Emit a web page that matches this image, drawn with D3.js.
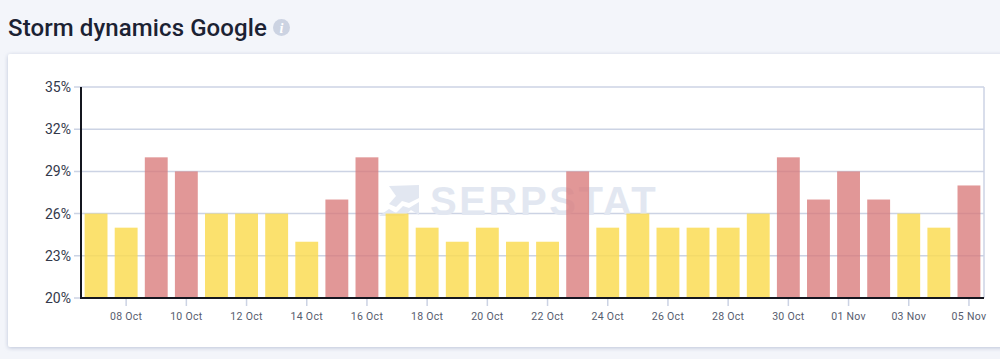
<!DOCTYPE html>
<html>
<head>
<meta charset="utf-8">
<script src="https://cdn.jsdelivr.net/npm/d3@7"></script>
<style>
    html, body { margin: 0; padding: 0; background: #f3f5fa; overflow: hidden; }
    svg { display: block; font-family: Roboto, sans-serif; }
</style>
</head>
<body>
<div id="chart"></div>
<script>
const days = ["07 Oct", "08 Oct", "09 Oct", "10 Oct", "11 Oct", "12 Oct", "13 Oct", "14 Oct", "15 Oct", "16 Oct",
    "17 Oct", "18 Oct", "19 Oct", "20 Oct", "21 Oct", "22 Oct", "23 Oct", "24 Oct", "25 Oct", "26 Oct",
    "27 Oct", "28 Oct", "29 Oct", "30 Oct", "31 Oct", "01 Nov", "02 Nov", "03 Nov", "04 Nov", "05 Nov"];
const storm = [26, 25, 30, 29, 26, 26, 26, 24, 27, 30, 26, 25, 24, 25, 24, 24, 29, 25, 26, 25, 25, 25, 26, 30, 27, 29, 27, 26, 25, 28];
const yTicks = [20, 23, 26, 29, 32, 35];
const xTicks = days.filter((d, i) => i % 2 === 1);
const highLevel = 27; // days at or above this are drawn red

const width = 1000, height = 359;
const margin = { top: 87, right: 16, bottom: 61, left: 81 };

const svg = d3.select("#chart").append("svg")
    .attr("width", width)
    .attr("height", height);

// Card shadow
const shadow = svg.append("defs").append("filter")
    .attr("id", "card-shadow")
    .attr("x", "-5%").attr("y", "-5%")
    .attr("width", "110%").attr("height", "110%");
shadow.append("feDropShadow")
    .attr("dx", 0).attr("dy", 1)
    .attr("stdDeviation", 2)
    .attr("flood-color", "#aeb7d0")
    .attr("flood-opacity", 0.8);

svg.append("rect")
    .attr("x", 8).attr("y", 54)
    .attr("width", 1010).attr("height", 293)
    .attr("rx", 2)
    .attr("fill", "#fff")
    .attr("filter", "url(#card-shadow)");

// Title and info badge
svg.append("text")
    .attr("x", 8).attr("y", 36)
    .attr("font-size", 24)
    .attr("font-weight", 500)
    .attr("letter-spacing", 0.1)
    .attr("fill", "#1b2233")
    .text("Storm dynamics Google");

svg.append("circle")
    .attr("cx", 281.5).attr("cy", 27.5).attr("r", 8.5)
    .attr("fill", "#ccd3e2");
svg.append("text")
    .attr("x", 281.5).attr("y", 32.5)
    .attr("text-anchor", "middle")
    .attr("font-family", "'Liberation Serif', serif")
    .attr("font-style", "italic")
    .attr("font-weight", "bold")
    .attr("font-size", 14)
    .attr("fill", "#fff")
    .text("i");

const xScale = d3.scaleBand()
    .domain(days)
    .range([margin.left, width - margin.right])
    .paddingInner(0.24)
    .paddingOuter(0.12);

const yScale = d3.scaleLinear()
    .domain([20, 35])
    .range([height - margin.bottom, margin.top]);

// Horizontal grid
svg.append("g")
    .selectAll("line")
    .data(yTicks)
    .enter().append("line")
    .attr("x1", margin.left - 7)
    .attr("x2", width - margin.right)
    .attr("y1", d => yScale(d))
    .attr("y2", d => yScale(d))
    .attr("stroke", "#ccd3e4")
    .attr("stroke-width", 1.5);

// Right border of the plot
svg.append("line")
    .attr("x1", width - margin.right).attr("x2", width - margin.right)
    .attr("y1", margin.top).attr("y2", height - margin.bottom)
    .attr("stroke", "#ccd3e4")
    .attr("stroke-width", 1.5);

// Watermark
const mark = svg.append("g").attr("fill", "#e2e7f1");
mark.append("text")
    .attr("x", 430).attr("y", 215)
    .attr("font-family", "'Liberation Sans', Arial, sans-serif")
    .attr("font-weight", "bold")
    .attr("font-size", 40)
    .attr("letter-spacing", 2.6)
    .text("SERPSTAT");
mark.append("path")
    .attr("d", "M389 186 L419 185 L419 198 L409 203 L402 201 L396 207 L389 204 L396 196 Z M379 216 L389 209 L396 213 L403 206 L409 208 L419 202 L419 215 L411 210 L404 216 Z");

// Bars
svg.append("g")
    .selectAll("rect")
    .data(days)
    .enter().append("rect")
    .attr("x", d => xScale(d))
    .attr("y", (d, i) => yScale(storm[i]))
    .attr("width", xScale.bandwidth())
    .attr("height", (d, i) => yScale(20) - yScale(storm[i]))
    .attr("fill", (d, i) => storm[i] >= highLevel ? "#d87a7a" : "#fadb52")
    .attr("fill-opacity", (d, i) => storm[i] >= highLevel ? 0.78 : 0.84);

// X axis
const xAxis = svg.append("g")
    .attr("transform", `translate(0,${height - margin.bottom})`)
    .call(d3.axisBottom(xScale).tickValues(xTicks).tickSize(8).tickPadding(7));
xAxis.select(".domain").remove();
xAxis.selectAll("line").attr("stroke", "#ccd3e4").attr("stroke-width", 1.5);
xAxis.selectAll("text")
    .attr("font-size", 10.5)
    .attr("font-family", "Roboto, sans-serif")
    .attr("letter-spacing", 0.3)
    .attr("fill", "#565c6e");

// Y axis labels
svg.append("g")
    .selectAll("text")
    .data(yTicks)
    .enter().append("text")
    .attr("x", 71)
    .attr("y", d => yScale(d) + 5)
    .attr("text-anchor", "end")
    .attr("font-size", 14)
    .attr("fill", "#33384a")
    .text(d => d + "%");

// Black axis lines
svg.append("line")
    .attr("x1", margin.left).attr("x2", margin.left)
    .attr("y1", margin.top).attr("y2", height - margin.bottom + 1)
    .attr("stroke", "#14161f").attr("stroke-width", 2);
svg.append("line")
    .attr("x1", margin.left).attr("x2", width - margin.right)
    .attr("y1", height - margin.bottom).attr("y2", height - margin.bottom)
    .attr("stroke", "#14161f").attr("stroke-width", 2);
</script>
</body>
</html>
